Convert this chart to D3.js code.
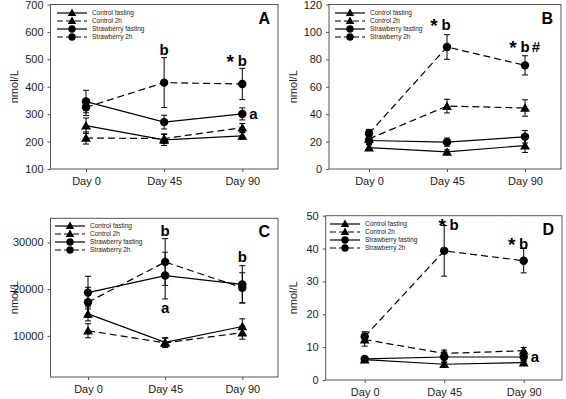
<!DOCTYPE html>
<html><head><meta charset="utf-8">
<script src="https://cdn.jsdelivr.net/npm/d3@7"></script>
<style>
body{margin:0;background:#fff;}
svg{display:block;font-family:"Liberation Sans",Arial,sans-serif;}
</style></head>
<body>
<svg id="chart" width="566" height="399"></svg>
<script>
// ---------- data ----------
const days = [0, 45, 90];
const dayLabels = ["Day 0", "Day 45", "Day 90"];
const seriesNames = ["Control fasting", "Control 2h", "Strawberry fasting", "Strawberry 2h"];

// Panel A
const A_controlFasting = [258, 206, 221];
const A_controlFastingErr = [28, 20, 12];
const A_control2h = [213, 211, 251];
const A_control2hErr = [22, 17, 15];
const A_strawFasting = [346, 271, 301];
const A_strawFastingErr = [41, 25, 22];
const A_straw2h = [325, 415, 410];
const A_straw2hErr = [30, 91, 57];
const A_ticks = [100, 200, 300, 400, 500, 600, 700];

// Panel B
const B_controlFasting = [15.6, 12.5, 17.1];
const B_controlFastingErr = [2, 1.5, 5];
const B_control2h = [22, 45.9, 44.5];
const B_control2hErr = [3, 5, 6];
const B_strawFasting = [20.8, 19.6, 23.5];
const B_strawFastingErr = [3, 3, 4.5];
const B_straw2h = [25.9, 89, 75.6];
const B_straw2hErr = [3, 9, 7];
const B_ticks = [0, 20, 40, 60, 80, 100, 120];

// Panel C
const C_controlFasting = [14700, 8600, 12000];
const C_controlFastingErr = [1500, 1000, 1650];
const C_control2h = [11100, 8500, 10700];
const C_control2hErr = [1500, 1000, 1400];
const C_strawFasting = [19250, 22900, 21000];
const C_strawFastingErr = [3500, 5000, 4000];
const C_straw2h = [17200, 25800, 20300];
const C_straw2hErr = [3200, 5000, 3200];
const C_ticks = [10000, 20000, 30000];

// Panel D
const D_controlFasting = [6.2, 4.8, 5.3];
const D_controlFastingErr = [0.4, 0.5, 0.6];
const D_control2h = [12.3, 8.1, 8.9];
const D_control2hErr = [2, 1, 1];
const D_strawFasting = [6.4, 7.0, 7.0];
const D_strawFastingErr = [0.5, 1.5, 1.3];
const D_straw2h = [13.2, 39.3, 36.3];
const D_straw2hErr = [1.5, 7.7, 3.7];
const D_ticks = [0, 10, 20, 30, 40, 50];

// annotations: [day, value, text]
const A_notes = [[45, 533, "b"], [90, 493, "* b"], [90, 300, "a"]];
const B_notes = [[45, 105, "* b"], [90, 89, "* b #"]];
const C_notes = [[45, 32500, "b"], [45, 15900, "a"], [90, 26800, "b"]];
const D_notes = [[45, 47.3, "* b"], [90, 41.5, "* b"], [90, 7, "a"]];

// ---------- drawing ----------
const svg = d3.select("#chart");

const styles = [
  {dash: null, sym: d3.symbolTriangle, size: 42},
  {dash: "7,4", sym: d3.symbolTriangle, size: 42},
  {dash: null, sym: d3.symbolCircle, size: 56},
  {dash: "7,4", sym: d3.symbolCircle, size: 56}
];

function drawPanel(p) {
  const g = svg.append("g");
  const x = d3.scaleLinear().domain([0, 90]).range([p.d0, p.d90]);
  const y = d3.scaleLinear().domain(p.yDomain).range([p.bottom, p.top]);

  // frame
  g.append("rect").attr("x", p.left).attr("y", p.top)
    .attr("width", p.right - p.left).attr("height", p.bottom - p.top)
    .attr("fill", "none").attr("stroke", "#555").attr("stroke-width", 1);

  // y axis
  const ya = g.append("g").attr("transform", `translate(${p.left},0)`)
    .call(d3.axisLeft(y).tickValues(p.ticks).tickSize(3).tickPadding(4).tickFormat(d3.format("d")));
  ya.select(".domain").remove();
  ya.selectAll("line").attr("stroke", "#555");
  ya.selectAll("text").attr("font-size", 11).attr("fill", "#222")
    .attr("font-family", "Liberation Sans, Arial, sans-serif");

  // x axis
  const xa = g.append("g").attr("transform", `translate(0,${p.bottom})`)
    .call(d3.axisBottom(x).tickValues(days).tickSize(3).tickPadding(5)
      .tickFormat((d, i) => dayLabels[i]));
  xa.select(".domain").remove();
  xa.selectAll("line").attr("stroke", "#555");
  xa.selectAll("text").attr("font-size", 11).attr("fill", "#222")
    .attr("font-family", "Liberation Sans, Arial, sans-serif");

  // y label
  g.append("text").attr("transform", `translate(${p.labX},${(p.top + p.bottom) / 2}) rotate(-90)`)
    .attr("text-anchor", "middle").attr("dy", "0.35em").attr("font-size", 11).attr("fill", "#222").text("nmol/L");

  const line = d3.line().x((d, i) => x(days[i])).y(d => y(d));

  p.series.forEach((s, k) => {
    const st = styles[k];
    g.append("path").datum(s.v).attr("d", line).attr("fill", "none")
      .attr("stroke", "#000").attr("stroke-width", 1.2)
      .attr("stroke-dasharray", st.dash);
  });
  p.series.forEach((s, k) => {
    s.v.forEach((v, i) => {
      const cx = x(days[i]);
      const y1 = y(v + s.e[i]), y0 = y(v - s.e[i]);
      g.append("line").attr("x1", cx).attr("x2", cx).attr("y1", y1).attr("y2", y0)
        .attr("stroke", "#000").attr("stroke-width", 1);
      [y1, y0].forEach(yy => g.append("line").attr("x1", cx - 3).attr("x2", cx + 3)
        .attr("y1", yy).attr("y2", yy).attr("stroke", "#000").attr("stroke-width", 1));
    });
  });
  p.series.forEach((s, k) => {
    const st = styles[k];
    s.v.forEach((v, i) => {
      g.append("path").attr("d", d3.symbol().type(st.sym).size(st.size)())
        .attr("transform", `translate(${x(days[i])},${y(v) + (st.sym === d3.symbolTriangle ? 1 : 0)})`)
        .attr("fill", "#000");
    });
  });

  // legend
  seriesNames.forEach((name, k) => {
    const st = styles[k];
    const ly = p.legY + k * 8;
    g.append("line").attr("x1", p.legX).attr("x2", p.legX + 30).attr("y1", ly).attr("y2", ly)
      .attr("stroke", "#000").attr("stroke-width", 1.2).attr("stroke-dasharray", st.dash ? "6,3" : null);
    g.append("path").attr("d", d3.symbol().type(st.sym).size(st.size * 0.75)())
      .attr("transform", `translate(${p.legX + 15},${ly + (st.sym === d3.symbolTriangle ? 0.5 : 0)})`)
      .attr("fill", "#000");
    g.append("text").attr("x", p.legX + 35).attr("y", ly + 2.3).attr("font-size", 6.5)
      .attr("fill", "#222").text(name);
  });

  // panel letter
  g.append("text").attr("x", p.right - 8).attr("y", p.top + 19).attr("text-anchor", "end")
    .attr("font-size", 16).attr("font-weight", "bold").attr("fill", "#000").text(p.letter);

  // annotations
  p.notes.forEach(n => {
    const cx = x(n[0]) + (p.noteShift && n[0] === 45 ? p.noteShift : 0);
    const cy = y(n[1]);
    const tokens = n[2].split(" ");
    const label = (t, dx, dy, anchor, fs) => g.append("text").attr("x", cx + dx).attr("y", cy + dy)
      .attr("text-anchor", anchor).attr("font-size", fs || 15).attr("font-weight", "bold")
      .attr("fill", "#000").text(t);
    if (n[2] === "a" && n[0] === 90) { label("a", 7, 5, "start"); return; }
    tokens.forEach(t => {
      if (t === "*") label("*", -12, 7, "middle", 19);
      else if (t === "#") label("#", 11, 5, "middle");
      else label(t, 0, 5, "middle");
    });
  });
}

function mk(cf, cfe, c2, c2e, sf, sfe, s2, s2e) {
  return [{v: cf, e: cfe}, {v: c2, e: c2e}, {v: sf, e: sfe}, {v: s2, e: s2e}];
}

drawPanel({letter: "A", left: 50.5, right: 278, top: 4.5, bottom: 169, d0: 86, d90: 242.3, labX: 14,
  yDomain: [100, 700], ticks: A_ticks,
  series: mk(A_controlFasting, A_controlFastingErr, A_control2h, A_control2hErr, A_strawFasting, A_strawFastingErr, A_straw2h, A_straw2hErr),
  notes: A_notes, legX: 57, legY: 13});
drawPanel({letter: "B", left: 329, right: 561, top: 4.5, bottom: 169, d0: 369, d90: 525, labX: 293,
  yDomain: [0, 120], ticks: B_ticks,
  series: mk(B_controlFasting, B_controlFastingErr, B_control2h, B_control2hErr, B_strawFasting, B_strawFastingErr, B_straw2h, B_straw2hErr),
  notes: B_notes, legX: 335, legY: 13, noteShift: -1});
drawPanel({letter: "C", left: 50.5, right: 278, top: 218.3, bottom: 377, d0: 88, d90: 242.3, labX: 14,
  yDomain: [1200, 35150], ticks: C_ticks,
  series: mk(C_controlFasting, C_controlFastingErr, C_control2h, C_control2hErr, C_strawFasting, C_strawFastingErr, C_straw2h, C_straw2hErr),
  notes: C_notes, legX: 55, legY: 226});
drawPanel({letter: "D", left: 325.7, right: 562, top: 215.7, bottom: 380, d0: 364.7, d90: 523.7, labX: 293,
  yDomain: [0, 50], ticks: D_ticks,
  series: mk(D_controlFasting, D_controlFastingErr, D_control2h, D_control2hErr, D_strawFasting, D_strawFastingErr, D_straw2h, D_straw2hErr),
  notes: D_notes, legX: 330, legY: 224, noteShift: 10});
</script>
</body></html>
